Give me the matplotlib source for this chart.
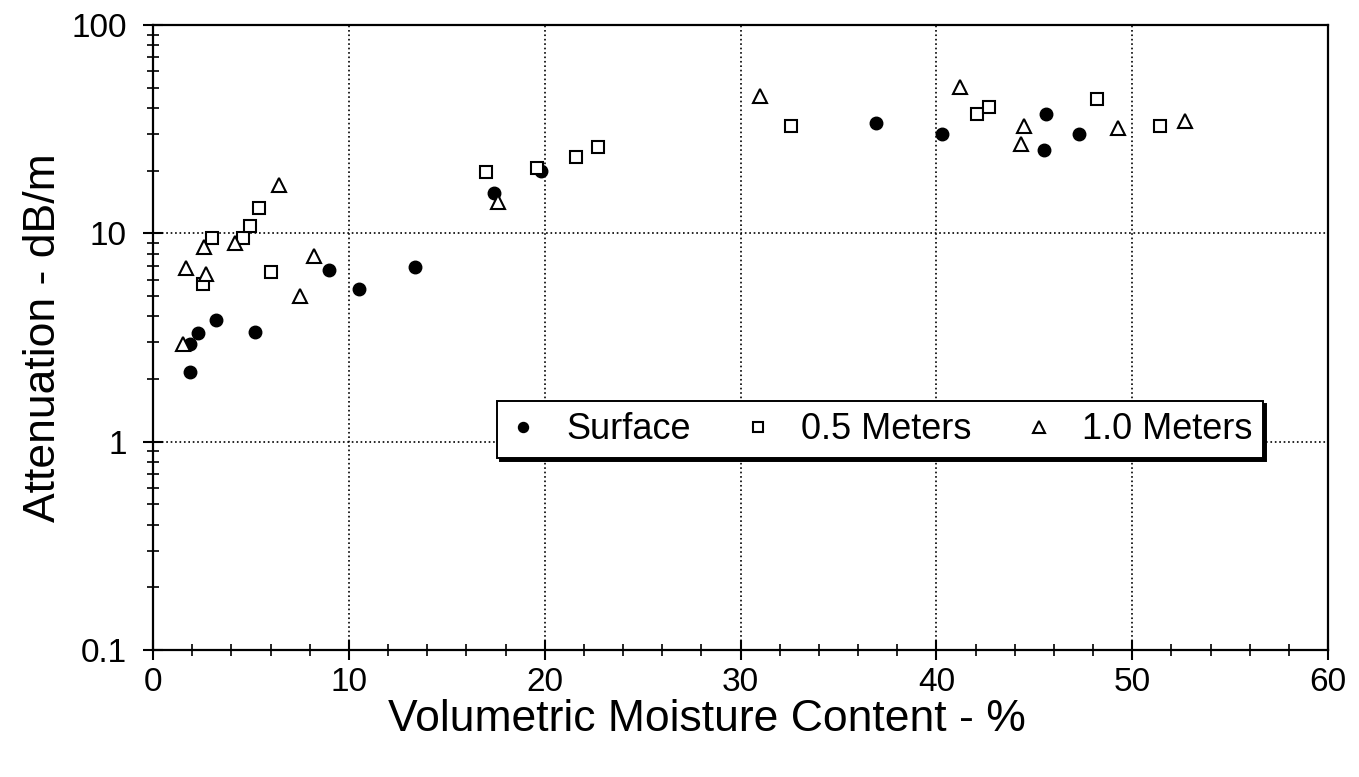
import numpy as np
import matplotlib.pyplot as plt
from matplotlib.ticker import LogLocator, FuncFormatter, MultipleLocator

plt.rcParams['font.family'] = ['Liberation Sans', 'DejaVu Sans']

# volumetric moisture (%) and attenuation (dB/m)
surface_x = [1.9, 1.9, 2.3, 3.2, 5.2, 9.0, 10.5, 13.4, 17.4, 19.8, 36.9, 40.3, 45.6, 47.3, 45.5]
surface_y = [2.15, 2.96, 3.34, 3.82, 3.38, 6.7, 5.4, 6.9, 15.7, 19.9, 33.8, 29.9, 37.3, 29.9, 25.1]

half_m_x = [2.55, 3.0, 4.6, 4.95, 5.4, 6.0, 17.0, 19.6, 21.6, 22.7, 32.6, 42.1, 42.7, 48.2, 51.4]
half_m_y = [5.7, 9.5, 9.5, 10.8, 13.2, 6.5, 19.6, 20.5, 23.2, 25.9, 32.7, 37.3, 40.3, 44.1, 32.7]

one_m_x = [6.45, 2.6, 4.2, 1.7, 2.7, 8.2, 7.5, 1.55, 17.6, 31.0, 41.2, 44.5, 44.3, 49.3, 52.7]
one_m_y = [17.0, 8.6, 9.0, 6.8, 6.4, 7.75, 5.0, 2.93, 14.1, 45.6, 50.4, 32.7, 26.8, 32.0, 34.5]

fig = plt.figure(figsize=(13.59, 7.77), dpi=100)
ax = fig.add_axes([0.1126, 0.1634, 0.8646, 0.8044])

ax.plot(surface_x, surface_y, 'o', color='black', markersize=9, label='Surface', linestyle='none')
ax.plot(half_m_x, half_m_y, 's', markerfacecolor='white', markeredgecolor='black',
        markeredgewidth=1.5, markersize=9, label='0.5 Meters', linestyle='none')
ax.plot(one_m_x, one_m_y, '^', markerfacecolor='white', markeredgecolor='black',
        markeredgewidth=1.5, markersize=10, label='1.0 Meters', linestyle='none')

ax.set_yscale('log')
ax.set_xlim(0, 60)
ax.set_ylim(0.1, 100)

ax.xaxis.set_major_locator(MultipleLocator(10))
ax.xaxis.set_minor_locator(MultipleLocator(2))
ax.yaxis.set_major_locator(LogLocator(base=10))
ax.yaxis.set_minor_locator(LogLocator(base=10, subs=np.arange(2, 10)))
ax.yaxis.set_major_formatter(FuncFormatter(lambda v, p: f'{v:g}'))
ax.yaxis.set_minor_formatter(FuncFormatter(lambda v, p: ''))

ax.tick_params(which='major', direction='inout', length=14, width=1.5, labelsize=24)
ax.tick_params(axis='x', which='major', pad=5)
ax.tick_params(axis='y', which='major', pad=12)
ax.tick_params(which='minor', direction='inout', length=9, width=1.2)
ax.tick_params(top=False, right=False)

ax.grid(which='major', linestyle=':', color='black', linewidth=1.2)
for s in ax.spines.values():
    s.set_linewidth(1.6)

ax.set_xlabel('Volumetric Moisture Content - %', fontsize=32, va='top')
ax.xaxis.set_label_coords(0.4715, -0.078)
ax.set_ylabel('Attenuation - dB/m', fontsize=32)
ax.yaxis.set_label_coords(-0.076, 0.5)

leg = ax.legend(loc='lower left', bbox_to_anchor=(0.293, 0.307, 0.652, 0.098), mode='expand',
                ncol=3, fontsize=26,
                frameon=True, fancybox=False, edgecolor='black', framealpha=1,
                shadow={'color': 'black', 'alpha': 1}, markerscale=0.8,
                borderaxespad=0, handlelength=0.8, handletextpad=0.8, borderpad=0.3)
leg.get_frame().set_linewidth(1.4)

fig.savefig('out.png', dpi=100)
